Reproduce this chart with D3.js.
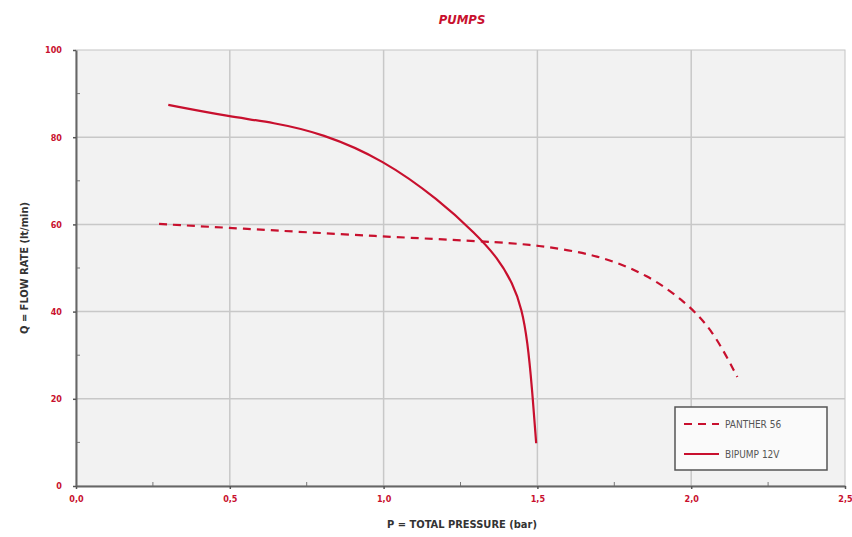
<!DOCTYPE html>
<html>
<head>
<meta charset="utf-8">
<script src="https://cdn.jsdelivr.net/npm/d3@7"></script>
<style>
  body { margin: 0; background: #fff; }
  text { font-family: "DejaVu Sans Condensed", "DejaVu Sans", sans-serif; }
</style>
</head>
<body>
<div id="chart"></div>
<script>
// values
const bipumpP = [0.30, 0.50, 0.64, 0.80, 1.00, 1.18, 1.30, 1.37, 1.42, 1.45, 1.468, 1.482, 1.496];
const bipumpQ = [87.4, 84.7, 83.4, 80.9, 74.8, 65.6, 57.8, 52.4, 46.5, 40.5, 33.0, 23.0, 9.8];
const pantherP = [0.27, 0.50, 1.00, 1.33, 1.50, 1.70, 1.86, 1.98, 2.07, 2.15];
const pantherQ = [60.1, 59.2, 57.2, 56.1, 55.3, 53.0, 48.4, 42.3, 35.8, 25.0];
const xTicks = [0, 0.5, 1.0, 1.5, 2.0, 2.5];
const yTicks = [0, 20, 40, 60, 80, 100];
const seriesNames = ["PANTHER 56", "BIPUMP 12V"];

const RED = "#c8102e";
const GREY = "#555";

const width = 852, height = 537;
const margin = { top: 50, right: 7, bottom: 51, left: 76 };
const w = width - margin.left - margin.right;
const h = height - margin.top - margin.bottom;

const svg = d3.select("#chart").append("svg")
  .attr("width", width).attr("height", height);

const g = svg.append("g").attr("transform", `translate(${margin.left},${margin.top})`);

const x = d3.scaleLinear().domain([0, 2.5]).range([0, w]);
const y = d3.scaleLinear().domain([0, 100]).range([h, 0]);

// plot background
g.append("rect").attr("width", w).attr("height", h)
  .attr("fill", "#f2f2f2").attr("stroke", "#c4c4c4");

// grid
g.append("g").selectAll("line").data(xTicks.slice(1, -1)).enter().append("line")
  .attr("x1", d => x(d)).attr("x2", d => x(d)).attr("y1", 0).attr("y2", h)
  .attr("stroke", "#c8c8c8").attr("stroke-width", 1.5);
g.append("g").selectAll("line").data(yTicks.slice(1, -1)).enter().append("line")
  .attr("y1", d => y(d)).attr("y2", d => y(d)).attr("x1", 0).attr("x2", w)
  .attr("stroke", "#c8c8c8").attr("stroke-width", 1.5);

// minor ticks (inside)
g.append("g").selectAll("line").data(d3.range(0.25, 2.5, 0.5)).enter().append("line")
  .attr("x1", d => x(d)).attr("x2", d => x(d)).attr("y1", h).attr("y2", h - 4)
  .attr("stroke", "#777");
g.append("g").selectAll("line").data(d3.range(10, 100, 20)).enter().append("line")
  .attr("y1", d => y(d)).attr("y2", d => y(d)).attr("x1", 0).attr("x2", 4)
  .attr("stroke", "#777");

// axes
const xAxis = g.append("g").attr("transform", `translate(0,${h})`)
  .call(d3.axisBottom(x).tickValues(xTicks).tickSize(3).tickSizeOuter(0)
    .tickFormat(d => d3.format(".1f")(d).replace(".", ",")));
const yAxis = g.append("g")
  .call(d3.axisLeft(y).tickValues(yTicks).tickSize(3).tickSizeOuter(0));

[xAxis, yAxis].forEach(a => {
  a.select(".domain").attr("stroke", "#666").attr("stroke-width", 2);
  a.selectAll(".tick line").attr("stroke", "#555").attr("stroke-width", 1.5);
  a.selectAll(".tick text").attr("fill", RED).style("font-size", "9px")
    .style("font-weight", "bold")
    .style("font-family", '"DejaVu Sans Condensed", "DejaVu Sans", sans-serif');
});
xAxis.selectAll(".tick text").attr("dy", "1.1em");
yAxis.selectAll(".tick text").attr("x", -14);

// lines
const line = d3.line().x(d => x(d[0])).y(d => y(d[1])).curve(d3.curveBasis);

g.append("path").datum(d3.zip(pantherP, pantherQ))
  .attr("d", line).attr("fill", "none").attr("stroke", RED)
  .attr("stroke-width", 2.2).attr("stroke-dasharray", "8,6");

g.append("path").datum(d3.zip(bipumpP, bipumpQ))
  .attr("d", line).attr("fill", "none").attr("stroke", RED)
  .attr("stroke-width", 2.2);

// legend
const legend = g.append("g").attr("transform", `translate(${675 - margin.left},${407 - margin.top})`);
legend.append("rect").attr("width", 152).attr("height", 63)
  .attr("fill", "#fafafa").attr("stroke", "#555").attr("stroke-width", 1.5);
seriesNames.forEach((name, i) => {
  const ly = 17 + i * 30;
  legend.append("line").attr("x1", 9).attr("x2", 44).attr("y1", ly).attr("y2", ly)
    .attr("stroke", RED).attr("stroke-width", 2.2)
    .attr("stroke-dasharray", i === 0 ? "8,6" : null);
  legend.append("text").attr("x", 50).attr("y", ly).attr("dy", "0.35em")
    .attr("fill", GREY).style("font-size", "10px").text(name);
});

// titles
svg.append("text").attr("x", 462).attr("y", 24).attr("text-anchor", "middle")
  .attr("fill", RED).style("font-size", "13px").style("font-weight", "bold")
  .style("font-style", "italic").text("PUMPS");

svg.append("text").attr("x", 462).attr("y", 528).attr("text-anchor", "middle")
  .attr("fill", "#333").style("font-size", "11px").style("font-weight", "bold")
  .text("P = TOTAL PRESSURE (bar)");

svg.append("text").attr("transform", "translate(28,268) rotate(-90)")
  .attr("text-anchor", "middle").attr("fill", "#333")
  .style("font-size", "11px").style("font-weight", "bold")
  .text("Q = FLOW RATE (lt/min)");
</script>
</body>
</html>
